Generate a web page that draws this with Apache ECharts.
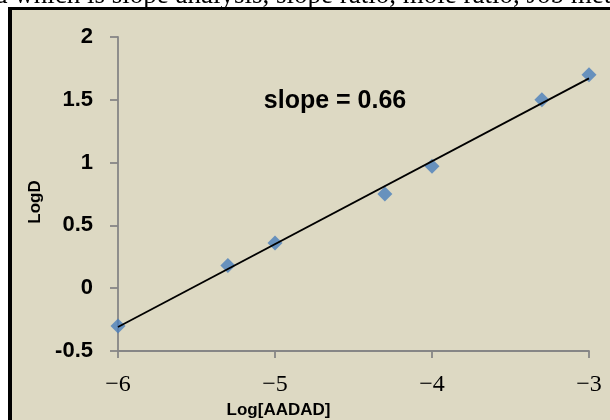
<!DOCTYPE html>
<html>
<head>
<meta charset="utf-8">
<style>
  html, body { margin: 0; padding: 0; background: #ffffff; }
  #chart { width: 610px; height: 420px; }
</style>
<script src="https://cdn.jsdelivr.net/npm/echarts@6/dist/echarts.min.js"></script>
</head>
<body>
<div id="chart"></div>
<script>
// Log[AADAD] versus LogD, with the slope-analysis trend line
const logAADAD = [-6, -5.3, -5, -4.3, -4, -3.3, -3];
const logD = [-0.30, 0.18, 0.36, 0.75, 0.97, 1.50, 1.70];
const slope = 0.66;
const xTicks = { min: -6, max: -3, step: 1 };
const yTicks = { min: -0.5, max: 2, step: 0.5 };
const caption = 'd which is slope analysis, slope ratio, mole ratio, Job method';

// trend line of the stated slope passing through the centroid of the points
const meanX = logAADAD.reduce((a, b) => a + b, 0) / logAADAD.length;
const meanY = logD.reduce((a, b) => a + b, 0) / logD.length;
const intercept = meanY - slope * meanX;
const xFirst = logAADAD[0];
const xLast = logAADAD[logAADAD.length - 1];
const trend = [
  [xFirst, slope * xFirst + intercept],
  [xLast, slope * xLast + intercept]
];

const points = logAADAD.map((x, i) => [x, logD[i]]);

const axisGray = '#868686';
const chart = echarts.init(document.getElementById('chart'), null, { renderer: 'canvas' });

chart.setOption({
  animation: false,
  backgroundColor: '#ffffff',
  graphic: [
    {
      type: 'rect', z: -10, silent: true,
      shape: { x: 12, y: 10, width: 620, height: 430 },
      style: { fill: '#ddd9c3' }
    },
    {
      type: 'line', z: -5, silent: true,
      shape: { x1: 10, y1: 7, x2: 10, y2: 430 },
      style: { stroke: '#000000', lineWidth: 4 }
    },
    {
      type: 'line', z: -5, silent: true,
      shape: { x1: 8, y1: 8.5, x2: 620, y2: 8.5 },
      style: { stroke: '#000000', lineWidth: 3 }
    },
    {
      type: 'text', z: -8, silent: true,
      style: {
        text: caption,
        x: -6, y: -4.5,
        textAlign: 'left', textVerticalAlign: 'middle',
        font: '27px "Liberation Serif", "Times New Roman", serif',
        fill: '#000000'
      }
    },
    {
      type: 'text', z: 10, silent: true,
      style: {
        text: 'slope = ' + slope.toFixed(2),
        x: 335, y: 101,
        textAlign: 'center', textVerticalAlign: 'middle',
        font: 'bold 25px "Liberation Sans", Arial, sans-serif',
        fill: '#000000'
      }
    }
  ],
  grid: {
    left: 118, right: 21, top: 37, bottom: 69,
    containLabel: false,
    outerBoundsMode: 'none'
  },
  xAxis: {
    type: 'value',
    min: xTicks.min, max: xTicks.max, interval: xTicks.step,
    name: 'Log[AADAD]',
    nameLocation: 'middle',
    nameGap: 51,
    nameTextStyle: {
      fontFamily: '"Liberation Sans", Arial, sans-serif',
      fontWeight: 'bold', fontSize: 17, color: '#000000',
      padding: [0, 150, 0, 0]
    },
    axisLine: { show: true, onZero: false, lineStyle: { color: axisGray, width: 1.8 } },
    axisTick: { show: true, inside: false, length: 7, lineStyle: { color: axisGray, width: 1.8 } },
    splitLine: { show: false },
    axisLabel: {
      margin: 22,
      fontFamily: '"Liberation Serif", "Times New Roman", serif',
      fontSize: 24, color: '#000000',
      formatter: v => (v < 0 ? '\u2212' : '') + Math.abs(v)
    }
  },
  yAxis: {
    type: 'value',
    min: yTicks.min, max: yTicks.max, interval: yTicks.step,
    name: 'LogD',
    nameLocation: 'middle',
    nameGap: 74,
    nameRotate: 90,
    nameTextStyle: {
      fontFamily: '"Liberation Sans", Arial, sans-serif',
      fontWeight: 'bold', fontSize: 17, color: '#000000',
      padding: [0, 16, 0, 0]
    },
    axisLine: { show: true, onZero: false, lineStyle: { color: axisGray, width: 1.8 } },
    axisTick: { show: true, inside: false, length: 8, lineStyle: { color: axisGray, width: 1.8 } },
    splitLine: { show: false },
    axisLabel: {
      margin: 25,
      fontFamily: '"Liberation Sans", Arial, sans-serif',
      fontWeight: 'bold', fontSize: 22, color: '#000000'
    }
  },
  series: [
    {
      name: 'LogD',
      type: 'scatter',
      data: points,
      symbol: 'diamond',
      symbolSize: 15,
      itemStyle: { color: '#4a7ebb' },
      z: 2
    },
    {
      name: 'trend',
      type: 'line',
      data: trend,
      showSymbol: false,
      symbol: 'none',
      lineStyle: { color: '#000000', width: 1.8 },
      z: 3
    }
  ]
});
</script>
</body>
</html>
